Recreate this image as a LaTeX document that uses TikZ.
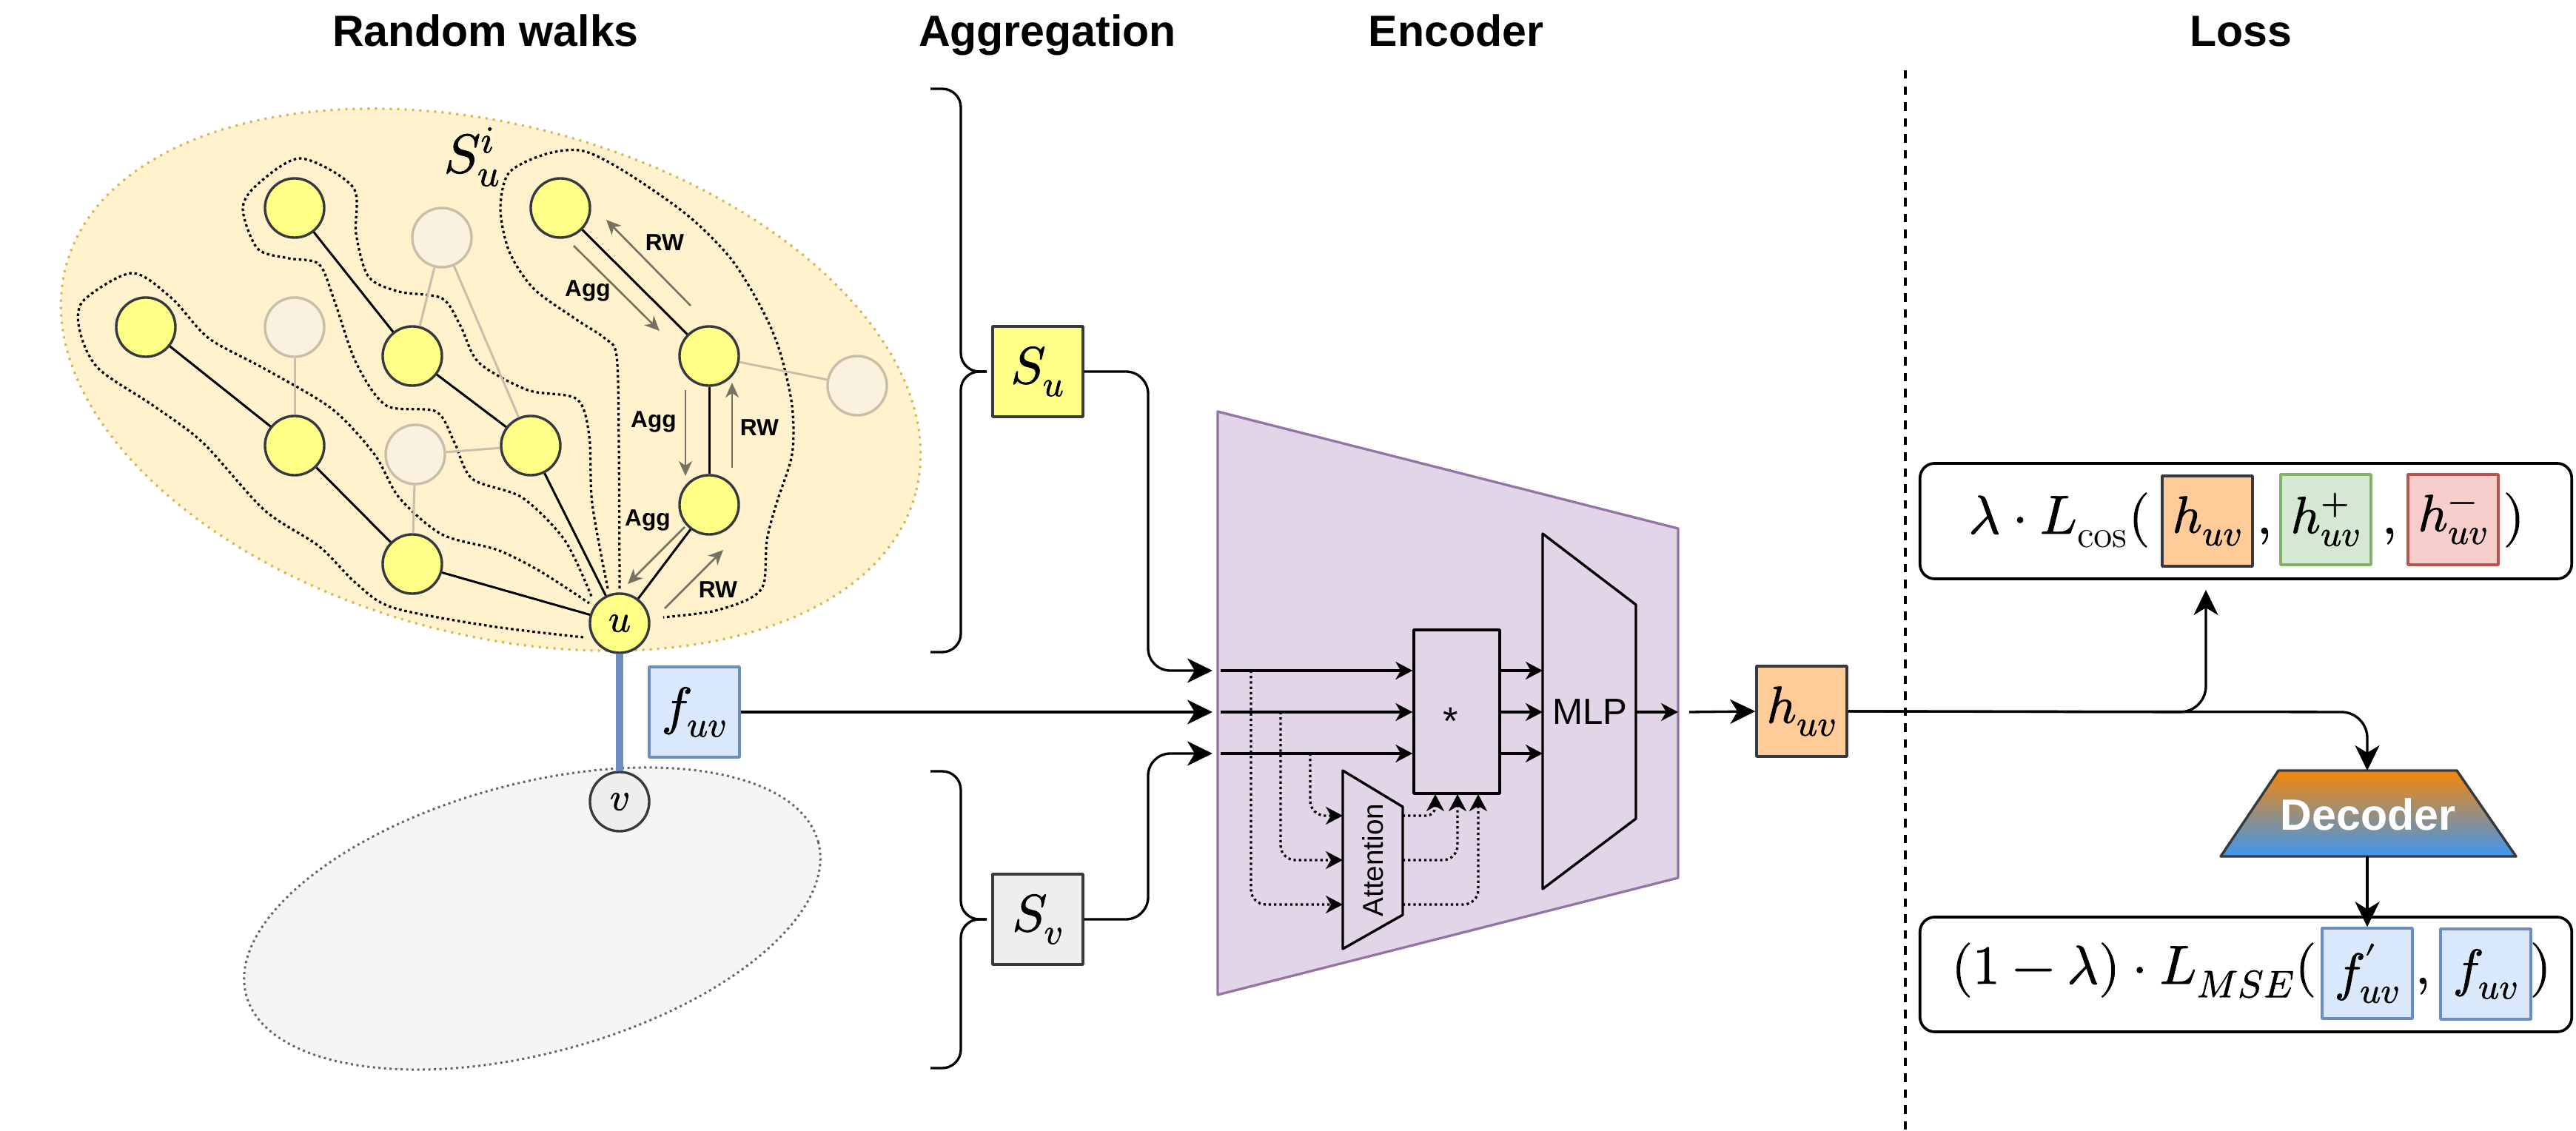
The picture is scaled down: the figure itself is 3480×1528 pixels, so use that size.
\documentclass[tikz,border=0pt]{standalone}
\usepackage{fontspec}
\usepackage{unicode-math}
\setmathfont{Latin Modern Math}[FakeBold=1.2]
\newfontfamily\sansf{Liberation Sans}
\usetikzlibrary{arrows.meta}
\definecolor{ynfill}{HTML}{FFFF88}
\definecolor{dkst}{HTML}{36393D}
\definecolor{fadefill}{RGB}{250,242,222}
\definecolor{fadest}{RGB}{200,190,170}
\definecolor{yell}{HTML}{FFF2CC}
\definecolor{yellst}{HTML}{D6B656}
\definecolor{grayell}{HTML}{F5F5F5}
\definecolor{grayst}{HTML}{666666}
\definecolor{bluef}{HTML}{DAE8FC}
\definecolor{bluest}{HTML}{6C8EBF}
\definecolor{orf}{HTML}{FFCC99}
\definecolor{grf}{HTML}{D5E8D4}
\definecolor{grst}{HTML}{82B366}
\definecolor{rdf}{HTML}{F8CECC}
\definecolor{rdst}{HTML}{B85450}
\definecolor{encf}{HTML}{E1D5E7}
\definecolor{encst}{HTML}{9673A6}
\definecolor{svf}{HTML}{EEEEEE}
\definecolor{arrgray}{RGB}{118,113,98}
\definecolor{decTop}{RGB}{245,135,10}
\definecolor{decBot}{RGB}{60,150,240}
\tikzset{
  ynode/.style={circle, draw=dkst, fill=ynfill, line width=0.034cm, minimum size=0.8cm, inner sep=0pt},
  fnode/.style={circle, draw=fadest, fill=fadefill, line width=0.034cm, minimum size=0.8cm, inner sep=0pt},
  edgeline/.style={line width=0.03cm, draw=black},
  fedge/.style={line width=0.03cm, draw=fadest},
  contour/.style={line width=0.032cm, dash pattern=on 0.035cm off 0.038cm},
  rwarr/.style={line width=0.026cm, draw=arrgray, -{Stealth[length=0.2cm,width=0.18cm,inset=0.06cm,fill=arrgray]}},
  lbl/.style={font=\sansf\bfseries\fontsize{9}{10}\selectfont, inner sep=0pt},
  mth/.style={font=\fontsize{21}{25}\selectfont, inner sep=0pt},
  mbox/.style={rectangle, line width=0.034cm, minimum width=1.22cm, minimum height=1.22cm, inner sep=0pt, font=\fontsize{20}{24}\selectfont},
  ttl/.style={font=\sansf\bfseries\fontsize{16.8}{20}\selectfont, anchor=base, inner sep=0pt},
  bigarr/.style={line width=0.033cm, -{Stealth[length=0.34cm,width=0.33cm,inset=0.1cm]}},
  medarr/.style={line width=0.033cm, -{Stealth[length=0.23cm,width=0.24cm,inset=0.07cm]}},
  dotarr/.style={medarr, dash pattern=on 0.032cm off 0.04cm},
}
\begin{document}
\begin{tikzpicture}[x=0.01cm, y=-0.01cm, line join=round]
\fill[white] (0,0) rectangle (3480,1528);
\useasboundingbox (0,0) rectangle (3480,1528);

% titles
\node[ttl] (t1) at (656,63) {Random walks};
\node[ttl] (t2) at (1415,63) {Aggregation};
\node[ttl] (t3) at (1967,63) {Encoder};
\node[ttl] (t4) at (3027,63) {Loss};

% ellipses
\draw[fill=yell, draw=yellst, line width=0.032cm, dash pattern=on 0.03cm off 0.07cm, rotate around={-15:(663,513)}] (663,513) ellipse [x radius=594, y radius=344];
\draw[fill=grayell, draw=grayst, line width=0.03cm, dash pattern=on 0.03cm off 0.045cm, rotate around={15:(719,1241)}] (719,1241) ellipse [x radius=400, y radius=182];

% dotted contours of walks
\draw[contour] plot[smooth, tension=0.5] coordinates {(788,861) (663,846) (531,821) (481,788) (431,738) (357,689) (274,598) (207,548) (133,498) (108,448) (112,407) (178,369) (232,403) (282,457) (357,498) (448,552) (506,614) (539,672) (597,722) (672,743) (730,772) (796,815)};
\draw[contour] plot[smooth, tension=0.5] coordinates {(821,795) (800,680) (796,589) (779,539) (713,527) (647,490) (622,440) (597,403) (539,394) (498,374) (481,316) (477,253) (406,214) (348,249) (328,282) (348,336) (390,349) (431,357) (452,407) (481,490) (522,548) (589,556) (614,598) (638,647) (705,672) (763,730) (800,808)};
\draw[contour] plot[smooth, tension=0.5] coordinates {(837,795) (836,598) (833,481) (817,457) (779,432) (721,390) (688,340) (676,282) (688,233) (738,208) (788,204) (846,233) (929,291) (987,349) (1028,415) (1053,473) (1070,548) (1070,614) (1049,680) (1036,730) (1032,788) (1012,809) (962,826) (896,834)};

\node[mth] (sui) at (638,212) {$S_u^i$};

% faded nodes
\node[fnode] (fa) at (597,321) {};
\node[fnode] (fb) at (398,442) {};
\node[fnode] (fc) at (561,614) {};
\node[fnode] (fd) at (1158,521) {};

% yellow nodes
\node[ynode] (n1) at (398,281) {};
\node[ynode] (n2) at (757,281) {};
\node[ynode] (n3) at (197,442) {};
\node[ynode] (n4) at (557,481) {};
\node[ynode] (n5) at (958,481) {};
\node[ynode] (n6) at (398,602) {};
\node[ynode] (n7) at (717,602) {};
\node[ynode] (n8) at (958,682) {};
\node[ynode] (n9) at (557,762) {};
\node[ynode, font=\fontsize{15}{18}\selectfont] (u) at (837,842) {$u$};
\node[circle, draw=dkst, fill=svf, line width=0.034cm, minimum size=0.8cm, inner sep=0pt, font=\fontsize{15}{18}\selectfont] (v) at (837,1083) {$v$};

% faded edges
\draw[fedge] (fa) -- (n4);
\draw[fedge] (fa) -- (n7);
\draw[fedge] (fb) -- (n6);
\draw[fedge] (fc) -- (n7);
\draw[fedge] (fc) -- (n9);
\draw[fedge] (n5) -- (fd);

% walk edges
\draw[edgeline] (n1) -- (n4);
\draw[edgeline] (n4) -- (n7);
\draw[edgeline] (n7) -- (u);
\draw[edgeline] (n3) -- (n6);
\draw[edgeline] (n6) -- (n9);
\draw[edgeline] (n9) -- (u);
\draw[edgeline] (n2) -- (n5);
\draw[edgeline] (n5) -- (n8);
\draw[edgeline] (n8) -- (u);

% RW / Agg arrows
\draw[rwarr] (933,413) -- (819,297);
\draw[rwarr] (775,332) -- (891,447);
\draw[rwarr] (926,527) -- (926,643);
\draw[rwarr] (989,632) -- (989,517);
\draw[rwarr] (925,712) -- (848,789);
\draw[rwarr] (898,822) -- (977,743);
\node[lbl] (l1) at (898,328) {RW};
\node[lbl] (l2) at (794,393) {Agg};
\node[lbl] (l3) at (883,570) {Agg};
\node[lbl] (l4) at (1026,578) {RW};
\node[lbl] (l5) at (875,703) {Agg};
\node[lbl] (l6) at (970,797) {RW};

% u-v edge and feature
\draw[line width=0.1cm, draw=bluest] (u) -- (v);
\node[mbox, draw=bluest, fill=bluef] (fuv) at (938,962) {$f_{uv}$};

% aggregation
\draw[line width=0.033cm, rounded corners=0.25cm] (1257,120) -- (1298,120) -- (1298,502) -- (1333,502);
\draw[line width=0.033cm, rounded corners=0.25cm] (1257,881) -- (1298,881) -- (1298,502) -- (1333,502);
\draw[line width=0.033cm, rounded corners=0.25cm] (1257,1042) -- (1298,1042) -- (1298,1242) -- (1333,1242);
\draw[line width=0.033cm, rounded corners=0.25cm] (1257,1443) -- (1298,1443) -- (1298,1242) -- (1333,1242);
\node[mbox, draw=dkst, fill=ynfill] (su) at (1402,502) {$S_u$};
\node[mbox, draw=dkst, fill=svf] (sv) at (1402,1242) {$S_v$};

% encoder
\draw[fill=encf, draw=encst, line width=0.033cm] (1645,556) -- (2267,714) -- (2267,1186) -- (1645,1344) -- cycle;
\coordinate (encA) at (1638,906);
\coordinate (encB) at (1638,962);
\coordinate (encC) at (1638,1018);
\draw[bigarr, rounded corners=0.3cm] (su.east) -- (1551,502) -- (1551,906) -- (encA);
\draw[bigarr] (fuv.east) -- (encB);
\draw[bigarr, rounded corners=0.3cm] (sv.east) -- (1551,1242) -- (1551,1018) -- (encC);

\coordinate (i1) at (1649,906);
\coordinate (i2) at (1649,962);
\coordinate (i3) at (1649,1018);
\node[draw, line width=0.034cm, minimum width=1.16cm, minimum height=2.21cm, inner sep=0pt] (star) at (1968,961.5) {};
\node[font=\sansf\fontsize{15}{18}\selectfont, anchor=base, inner sep=0pt] (startxt) at (1960,993) {*};
\draw[medarr] (i1) -- (star.west |- i1);
\draw[medarr] (i2) -- (star.west |- i2);
\draw[medarr] (i3) -- (star.west |- i3);

\draw[line width=0.034cm] (2084,721) -- (2210,817) -- (2210,1106) -- (2084,1201) -- cycle;
\node[font=\sansf\fontsize{14}{16}\selectfont, inner sep=0pt] (mlp) at (2148,962) {MLP};
\coordinate (m1) at (2084,906);
\coordinate (m2) at (2084,962);
\coordinate (m3) at (2084,1018);
\draw[medarr] (star.east |- m1) -- (m1);
\draw[medarr] (star.east |- m2) -- (m2);
\draw[medarr] (star.east |- m3) -- (m3);
\coordinate (mo) at (2210,962);
\coordinate (eo) at (2267,962);
\draw[medarr] (mo) -- (eo);

\draw[line width=0.034cm] (1814,1041) -- (1895,1090) -- (1895,1236) -- (1814,1282) -- cycle;
\node[rotate=90, font=\sansf\fontsize{11}{13}\selectfont, inner sep=0pt] (att) at (1855,1162) {Attention};
\draw[dotarr, rounded corners=0.2cm] (1690,906) -- (1690,1222) -- (1814,1222);
\draw[dotarr, rounded corners=0.2cm] (1730,962) -- (1730,1162) -- (1814,1162);
\draw[dotarr, rounded corners=0.2cm] (1770,1018) -- (1770,1102) -- (1814,1102);
\draw[dotarr, rounded corners=0.12cm] (1895,1102) -- (1939,1102) -- (1939,1073);
\draw[dotarr, rounded corners=0.2cm] (1895,1162) -- (1969,1162) -- (1969,1073);
\draw[dotarr, rounded corners=0.2cm] (1895,1222) -- (1997,1222) -- (1997,1073);

% h_uv
\node[mbox, draw=dkst, fill=orf] (huv) at (2434,961) {$h_{uv}$};
\coordinate (hin) at (2282,962);
\draw[bigarr] (hin) -- (huv.west);

% loss
\draw[line width=0.035cm, dash pattern=on 0.115cm off 0.1cm] (2574,95) -- (2574,1528);
\node[draw, rounded corners=0.2cm, line width=0.037cm, minimum width=8.8cm, minimum height=1.56cm] (ltop) at (3034,704) {};
\node[draw, rounded corners=0.2cm, line width=0.037cm, minimum width=8.8cm, minimum height=1.55cm] (lbot) at (3034,1316.5) {};

\node[mth, anchor=base east] (lc) at (2905,721) {$\lambda\cdot L_{\cos}($};
\node[mbox, draw=dkst, fill=orf] (h1) at (2982,704) {$h_{uv}$};
\node[mth, anchor=base] (c1) at (3059,721) {$,$};
\node[mbox, draw=grst, fill=grf] (h2) at (3142,702) {$h^{+}_{uv}$};
\node[mth, anchor=base] (c2) at (3228,721) {$,$};
\node[mbox, draw=rdst, fill=rdf] (h3) at (3314,702) {$h^{-}_{uv}$};
\node[mth, anchor=base] (rp1) at (3396,721) {$)$};

\node[mth, anchor=base east] (lm) at (3130,1329) {$(1-\lambda)\cdot L_{MSE}($};
\node[mbox, draw=bluest, fill=bluef] (fp) at (3198,1315) {$f'_{uv}$};
\node[mth, anchor=base] (c3) at (3273,1329) {$,$};
\node[mbox, draw=bluest, fill=bluef] (f2) at (3358,1316) {$f_{uv}$};
\node[mth, anchor=base] (rp2) at (3432,1329) {$)$};

% decoder
\draw[top color=decTop, bottom color=decBot, draw=dkst, line width=0.034cm] (3078,1041) -- (3319,1041) -- (3399,1157) -- (3000,1157) -- cycle;
\node[font=\sansf\bfseries\fontsize{16.8}{20}\selectfont, text=white, inner sep=0pt] (dec) at (3199,1100) {Decoder};
\coordinate (dectop) at (3198,1041);
\coordinate (decbot) at (3198,1157);
\coordinate (ltopin) at (2980,797);
\draw[bigarr, rounded corners=0.35cm] (huv.east) -- (2980,962) -- (ltopin);
\draw[bigarr, rounded corners=0.35cm] (huv.east) -- (3198,962) -- (dectop);
\draw[bigarr] (decbot) -- (fp.north);
\end{tikzpicture}
\end{document}
